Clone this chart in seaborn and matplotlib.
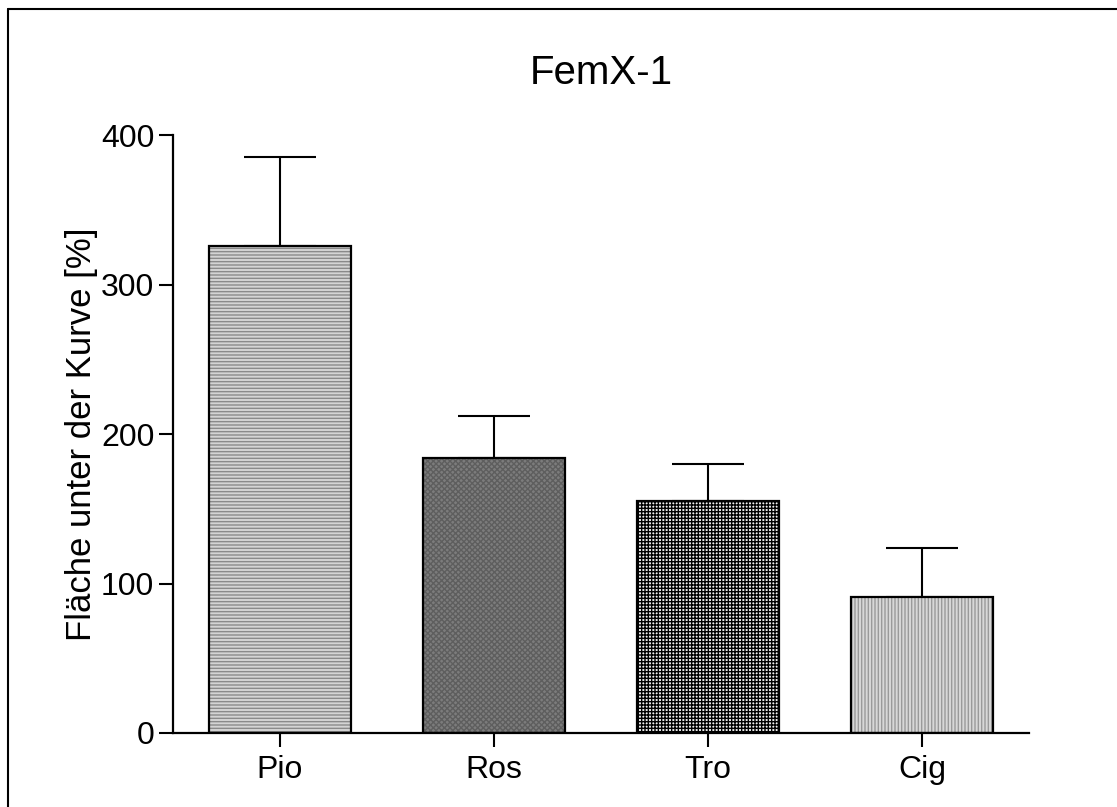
import matplotlib
matplotlib.use("Agg")
import matplotlib.pyplot as plt
import seaborn as sns
import pandas as pd
import numpy as np
from matplotlib.lines import Line2D

categories = ["Pio", "Ros", "Tro", "Cig"]
means = [326, 184, 155, 91]
upper = [385, 212, 180, 124]
title = "FemX-1"
ylabel = "Fläche unter der Kurve [%]"

sns.set_theme(style="ticks")
plt.rcParams['font.family'] = ['Liberation Sans', 'DejaVu Sans']
plt.rcParams['hatch.linewidth'] = 1.0
plt.rcParams['text.color'] = 'black'
plt.rcParams['axes.labelcolor'] = 'black'
plt.rcParams['xtick.color'] = 'black'
plt.rcParams['ytick.color'] = 'black'

df = pd.DataFrame({"cat": categories, "val": means})

fig = plt.figure(figsize=(11.17, 8.07), dpi=100)
ax = fig.add_axes([0.1549, 0.0917, 0.9212 - 0.1549, 0.8327 - 0.0917])

sns.barplot(data=df, x="cat", y="val", ax=ax, width=0.66, errorbar=None,
            color="white", saturation=1)
faces = ["#d4d4d4", "#7c7c7c", "#f0f0f0", "#d8d8d8"]
hcols = ["#8a8a8a", "#5e5e5e", "#000000", "#9a9a9a"]
hatches = ["-----", "xxxxxx", "+++++", "|||||"]
for p, fc, hc, h in zip(ax.patches, faces, hcols, hatches):
    p.set_facecolor(fc)
    p.set_edgecolor(hc)
    p.set_hatch(h)
    p.set_linewidth(0)

sns.barplot(data=df, x="cat", y="val", ax=ax, width=0.66, errorbar=None,
            fill=False, edgecolor="black", linewidth=1.6)

x = np.arange(len(categories))
err = np.array(upper) - np.array(means)
ax.errorbar(x, means, yerr=[np.zeros_like(err), err], fmt="none",
            ecolor="black", elinewidth=1.5, capsize=26, capthick=1.5, zorder=0.5)

ax.set_xlim(-0.5, 3.5)
ax.set_ylim(0, 400)
ax.set_yticks([0, 100, 200, 300, 400])
ax.set_xlabel("")
ax.set_ylabel(ylabel, fontsize=25, labelpad=2, color="black")
ax.set_title(title, fontsize=29, pad=37, color="black")
ax.tick_params(axis="both", labelsize=23, width=1.5, length=10, color="black",
               labelcolor="black", direction="out")
ax.tick_params(axis="x", pad=6)
for s in ["left", "bottom"]:
    ax.spines[s].set_linewidth(1.6)
    ax.spines[s].set_color("black")
sns.despine(ax=ax)

fig.add_artist(Line2D([8/1117, 8/1117], [0, 1 - 9/807], transform=fig.transFigure, color="black", linewidth=1.5))
fig.add_artist(Line2D([8/1117, 1], [1 - 9/807, 1 - 9/807], transform=fig.transFigure, color="black", linewidth=1.5))

fig.savefig("out.png", dpi=100)
